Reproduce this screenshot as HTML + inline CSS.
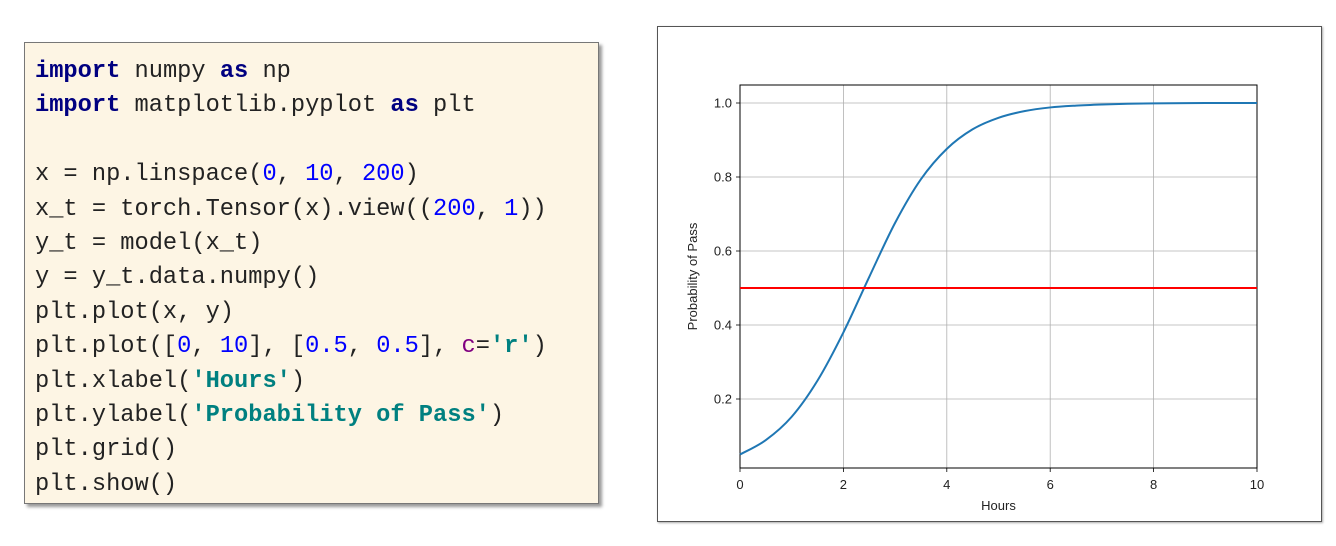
<!DOCTYPE html>
<html><head><meta charset="utf-8"><style>
body{margin:0;width:1336px;height:546px;background:#fff;overflow:hidden;position:relative;font-family:"Liberation Sans",sans-serif}
#code{position:absolute;left:24px;top:42px;width:575px;height:462px;background:#fdf5e4;border:1px solid #777;box-shadow:3px 3px 3px #999;box-sizing:border-box}
#code pre{margin:0;position:absolute;left:10px;top:12px;font-family:"Liberation Mono","Noto Sans CJK SC",monospace;font-size:23.7px;line-height:34.4px;color:#222}
.k{color:#000080;font-weight:bold}.n{color:#0000ff}.s{color:#008080;font-weight:bold}.p{color:#800080}
#chart{position:absolute;left:657px;top:26px;width:665px;height:496px;border:1px solid #555;box-sizing:border-box;box-shadow:1px 1px 2px #aaa}
</style></head><body>
<div id="code"><pre><span class="k">import</span> numpy <span class="k">as</span> np
<span class="k">import</span> matplotlib.pyplot <span class="k">as</span> plt

x = np.linspace(<span class="n">0</span>, <span class="n">10</span>, <span class="n">200</span>)
x_t = torch.Tensor(x).view((<span class="n">200</span>, <span class="n">1</span>))
y_t = model(x_t)
y = y_t.data.numpy()
plt.plot(x, y)
plt.plot([<span class="n">0</span>, <span class="n">10</span>], [<span class="n">0.5</span>, <span class="n">0.5</span>], <span class="p">c</span>=<span class="s">'r'</span>)
plt.xlabel(<span class="s">'Hours'</span>)
plt.ylabel(<span class="s">'Probability of Pass'</span>)
plt.grid()
plt.show()</pre></div>
<div id="chart"></div>
<svg id="svg" width="1336" height="546" style="position:absolute;left:0;top:0"></svg>
<script>
const xTicks=[0,2,4,6,8,10];
const yTicks=[0.2,0.4,0.6,0.8,1.0];
const curveX=[0,0.5,1,1.5,2,2.5,3,3.5,4,4.5,5,5.5,6,6.5,7,7.5,8,9,10];
const curveY=[0.05,0.089,0.152,0.25,0.38,0.53,0.676,0.794,0.876,0.929,0.96,0.978,0.988,0.993,0.996,0.998,0.999,1.0,1.0];
const refX=[0,10];
const refY=[0.5,0.5];
const L=740,R=1257,T=85,B=468;
const sx=v=>L+(v-0)/(10-0)*(R-L);
const sy=v=>103+(1-v)*370;
const svg=document.getElementById('svg');
const NS='http://www.w3.org/2000/svg';
function mk(t,a){const e=document.createElementNS(NS,t);for(const k in a)e.setAttribute(k,a[k]);svg.appendChild(e);return e;}
xTicks.forEach(v=>{
 const g=mk('line',{x1:sx(v),x2:sx(v),y1:T,y2:B,stroke:'#b0b0b0','stroke-width':0.8});
 
 
 const tk=mk('line',{x1:sx(v),x2:sx(v),y1:B,y2:B+4,stroke:'#000','stroke-width':0.8});
 
 
 const t=mk('text',{x:sx(v),y:B+21,'text-anchor':'middle','font-size':13,fill:'#222'});
 t.textContent=v;
 
 
});
yTicks.forEach(v=>{
 const g=mk('line',{x1:L,x2:R,y1:sy(v),y2:sy(v),stroke:'#b0b0b0','stroke-width':0.8});
 
 
 const tk=mk('line',{x1:L-4,x2:L,y1:sy(v),y2:sy(v),stroke:'#000','stroke-width':0.8});
 
 
 const t=mk('text',{x:L-8,y:sy(v)+4.5,'text-anchor':'end','font-size':13,fill:'#222'});
 t.textContent=v.toFixed(1);
 
 
});
const ax=mk('rect',{x:L,y:T,width:R-L,height:B-T,fill:'none',stroke:'#000','stroke-width':1});


// smooth curve via Catmull-Rom
const pts=curveX.map((x,i)=>[sx(x),sy(curveY[i])]);
let d='M'+pts[0][0]+','+pts[0][1];
for(let i=0;i<pts.length-1;i++){
 const p0=pts[Math.max(0,i-1)],p1=pts[i],p2=pts[i+1],p3=pts[Math.min(pts.length-1,i+2)];
 d+=` C${p1[0]+(p2[0]-p0[0])/6},${p1[1]+(p2[1]-p0[1])/6} ${p2[0]-(p3[0]-p1[0])/6},${p2[1]-(p3[1]-p1[1])/6} ${p2[0]},${p2[1]}`;
}
const c=mk('path',{d:d,fill:'none',stroke:'#1f77b4','stroke-width':2});


const r=mk('line',{x1:sx(refX[0]),x2:sx(refX[1]),y1:sy(refY[0]),y2:sy(refY[1]),stroke:'#ff0000','stroke-width':2});


const xl=mk('text',{x:(L+R)/2,y:510,'text-anchor':'middle','font-size':13,fill:'#222'});
xl.textContent='Hours';


const yl=mk('text',{x:0,y:0,'text-anchor':'middle','font-size':13,fill:'#222',transform:`translate(697,${(T+B)/2}) rotate(-90)`});
yl.textContent='Probability of Pass';


</script>
</body></html>
